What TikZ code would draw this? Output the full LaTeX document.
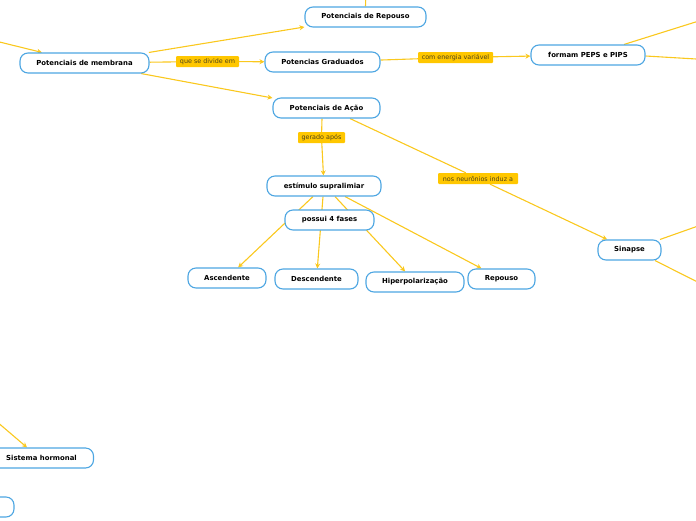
\documentclass[tikz,border=0pt]{standalone}
\usepackage{fontspec}
\setmainfont{DejaVu Sans}
\usetikzlibrary{arrows.meta,backgrounds,calc}
\definecolor{nodeblue}{RGB}{77,166,226}
\definecolor{linkyellow}{RGB}{250,200,30}
\definecolor{labfill}{RGB}{255,199,0}
\definecolor{labtext}{RGB}{80,68,25}
\begin{document}
\begin{tikzpicture}[x=1pt,y=-1pt,
  topic/.style={draw=nodeblue, line width=1.1pt, fill=white, rounded corners=8pt,
    minimum height=20pt, inner sep=0pt, font=\fontsize{6.9}{8}\selectfont\bfseries, text=black},
  linklab/.style={fill=labfill, rounded corners=1pt, inner sep=1pt, minimum height=11pt,
    font=\fontsize{6.4}{7}\selectfont, text=labtext},
  link/.style={draw=linkyellow, line width=1.1pt},
  arr/.style={link, -{Stealth[length=5pt,width=5pt]}}]
\useasboundingbox (0,0) rectangle (696,520);

% topics
\node[topic, minimum width=121pt] (rep) at (365.5,17) {Potenciais de Repouso};
\node[topic, minimum width=129pt] (mem) at (84.5,63) {Potenciais de membrana};
\node[topic, minimum width=115pt] (gra) at (322.5,62) {Potencias Graduados};
\node[topic, minimum width=114pt] (peps) at (588,55) {formam PEPS e PIPS};
\node[topic, minimum width=107pt] (aca) at (326.5,108) {Potenciais de Ação};
\node[topic, minimum width=114pt] (est) at (324,186) {estímulo supralimiar};
\node[topic, minimum width=78pt] (asc) at (227,278) {Ascendente};
\node[topic, minimum width=83pt] (des) at (316.5,279) {Descendente};
\node[topic, minimum width=98pt] (hip) at (415,282) {Hiperpolarização};
\node[topic, minimum width=67pt] (rpo) at (501.5,279) {Repouso};
\node[topic, minimum width=63pt] (sin) at (629.5,250) {Sinapse};
\node[topic, minimum width=104pt] (sis) at (41.5,458) {Sistema hormonal};
\node[topic, minimum width=88pt] (bl) at (-30,507) {};
\node[topic, minimum width=102pt, minimum height=28pt] (tr) at (745,-12) {};
\node[topic, minimum width=89pt] (fas) at (329.5,220) {possui 4 fases};

% link labels
\node[linklab, minimum width=63pt] (que) at (207.5,61.5) {que se divide em};
\node[linklab, minimum width=75pt] (com) at (455.5,57.5) {com energia variável};
\node[linklab, minimum width=47pt] (ger) at (321.5,137.5) {gerado após};
\node[linklab, minimum width=80pt] (nos) at (478,178.5) {nos neurônios induz a};

% outer coordinates
\coordinate (inA) at (-20,37.2);
\coordinate (inB) at (-20,407.3);
\coordinate (upR) at (366,-10);
\coordinate (outA) at (730,11.2);
\coordinate (outB) at (730,61);
\coordinate (outC) at (730,214.7);
\coordinate (outD) at (730,298.4);

\begin{scope}[on background layer]
\draw[arr] (inA) -- ([xshift=-42.5pt]mem.north);
\draw[arr] (inB) -- ([xshift=-14.5pt]sis.north);
\draw[link] (rep.north) -- (upR);
\draw[arr] (mem) -- (rep);
\draw[link] (mem) -- (que);
\draw[arr] (que) -- (gra);
\draw[arr] (mem) -- (aca);
\draw[link] (gra) -- (com);
\draw[arr] (com) -- (peps);
\draw[link] ([xshift=36pt]peps.north) -- (outA);
\draw[link] ($(peps.east)+(0,1)$) -- (outB);
\draw[link] ([xshift=-4.5pt]aca.south) -- (ger);
\draw[arr] (ger) -- (est);
\draw[link] ([xshift=23.5pt]aca.south) -- (nos);
\draw[arr] (nos) -- (sin);
\draw[link] ([xshift=-1.5pt]sin.north east) -- (outC);
\draw[link] ([xshift=25.5pt]sin.south) -- (outD);
\draw[arr] ([xshift=-11pt]est.south) -- (asc);
\draw[arr] ([xshift=-1pt]est.south) -- (des);
\draw[arr] ([xshift=11pt]est.south) -- (hip);
\draw[arr] ([xshift=21pt]est.south) -- (rpo);
\end{scope}
\end{tikzpicture}
\end{document}
